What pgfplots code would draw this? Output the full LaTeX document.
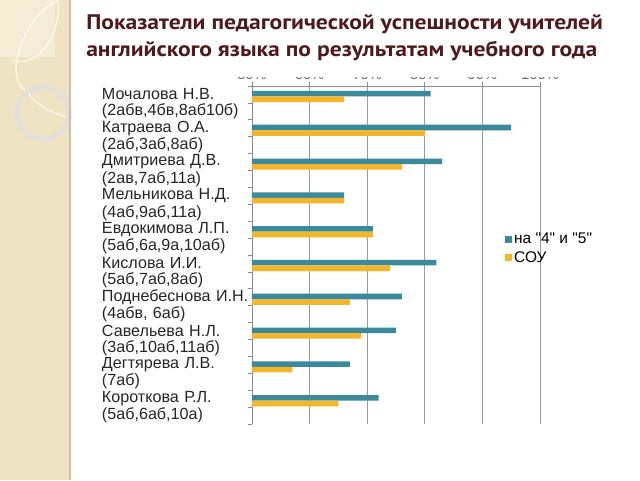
\documentclass[border=0pt]{standalone}
\usepackage{pgfplots}
\pgfplotsset{compat=1.18}
\usepackage{fontspec}
\setmainfont{Liberation Sans}
\newfontfamily\plainfont{Liberation Sans}
\newfontfamily\titlefont[FakeStretch=1.12]{PT Sans}
\definecolor{cblue}{HTML}{3A8A9C}
\definecolor{cyel}{HTML}{F2B52C}
\definecolor{ctitle}{HTML}{4E1A1E}
\definecolor{cstripe}{HTML}{EEE4C4}
\definecolor{cstripe2}{HTML}{F4EDD6}
\begin{document}
\begin{tikzpicture}[x=0.75pt,y=0.75pt]
\useasboundingbox (0,0) rectangle (640,480);
\fill[white] (0,0) rectangle (640,480);
% left decorative stripe
\fill[cstripe] (0,0) rectangle (70,480);
\fill[cstripe2] (0,480) rectangle (55,423);
\draw[white,opacity=0.7,line width=1pt] (58,480) .. controls (20,460) and (5,400) .. (25,390) .. controls (40,370) and (60,365) .. (70,362);
\draw[white,opacity=0.7,line width=1pt] (58,480) .. controls (62,450) and (40,410) .. (12,420);
\draw[gray!25,line width=4pt,opacity=0.8] (43,367) circle[radius=26];
\draw[cstripe!85!black,line width=0.8pt] (70,0) -- (70,480);
\begin{axis}[
  at={(189pt,42pt)}, anchor=south west, scale only axis,
  width=216pt, height=253.5pt,
  xbar, bar width=0.33,
  xmin=50, xmax=100, ymin=-0.5, ymax=19.5,
  axis x line*=top, axis y line*=left,
  axis line style={draw=gray!90, line width=0.6pt},
  every tick/.style={draw=gray!90, line width=0.6pt},
  tick align=outside, major tick length=3pt,
  xtick={50,60,...,100},
  xticklabels={50\%,60\%,70\%,80\%,90\%,100\%},
  xticklabel style={font=\fontsize{11}{12}\selectfont, text=gray!85!black, yshift=-1.5pt},
  xmajorgrids, grid style={draw=gray!80, line width=0.6pt},
  ytick={-0.5,0.5,...,19.5}, yticklabels={},
  extra y ticks={0,...,19},
  extra y tick style={tick style={draw=none}, ymajorgrids=false},
  extra y tick labels={{(5аб,6аб,10а)},Короткова Р.Л.,(7аб),Дегтярева Л.В.,{(3аб,10аб,11аб)},Савельева Н.Л.,{(4абв, 6аб)},Поднебеснова И.Н.,{(5аб,7аб,8аб)},Кислова И.И.,{(5аб,6а,9а,10аб)},Евдокимова Л.П.,{(4аб,9аб,11а)},Мельникова Н.Д.,{(2ав,7аб,11а)},Дмитриева Д.В.,{(2аб,3аб,8аб)},Катраева О.А.,{(2абв,4бв,8аб10б)},Мочалова Н.В.},
  yticklabel style={font=\fontsize{12.1}{12.5}\selectfont, text=black!85, anchor=east, text width=111.5pt, align=left, inner sep=0pt, xshift=2.2pt},
  legend style={at={(0.878,0.573)}, anchor=north west, draw=none, fill=none,
    font=\plainfont\fontsize{11.6}{13}\selectfont, row sep=0pt, inner sep=0pt},
  legend cell align=left,
  legend image code/.code={\fill[#1] (0pt,-2.4pt) rectangle (4.8pt,2.4pt);},
]
\addplot[fill=cblue, draw=none, bar shift=0.045] coordinates {
 (81,19) (95,17) (83,15) (66,13) (71,11) (82,9) (76,7) (75,5) (67,3) (72,1)};
\addplot[fill=cyel, draw=none, bar shift=-0.285] coordinates {
 (66,19) (80,17) (76,15) (66,13) (71,11) (74,9) (67,7) (69,5) (57,3) (65,1)};
\legend{{на "4" и "5"},{СОУ}}
\end{axis}
% cover upper half of the top tick labels
\fill[white] (228,480-40) rectangle (580,480-77);
\node[anchor=north west, align=left, inner sep=0pt, text=ctitle,
  font=\titlefont\bfseries\fontsize{15.8}{20.5}\selectfont] at (86,480-14)
  {Показатели педагогической успешности учителей\\английского языка по результатам учебного года};
\end{tikzpicture}
\end{document}
